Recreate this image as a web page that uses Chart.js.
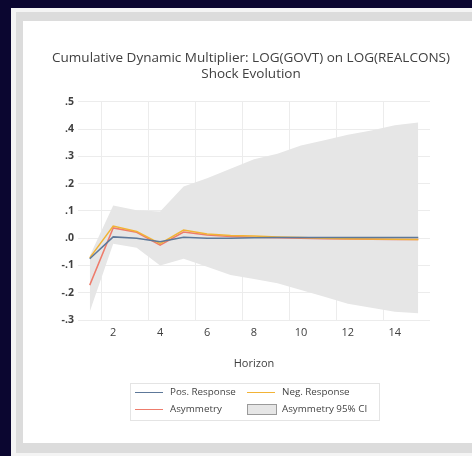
<!DOCTYPE html>
<html>
<head>
<meta charset="utf-8">
<script src="https://cdn.jsdelivr.net/npm/chart.js@4.4.1/dist/chart.umd.min.js"></script>
<style>
  html, body { margin: 0; padding: 0; width: 472px; height: 456px; overflow: hidden; background: #0b0630; }
  #white { position: absolute; left: 11px; top: 8px; width: 480px; height: 448px; background: #f4f4f4; }
  #gray { position: absolute; left: 16px; top: 12px; width: 480px; height: 441px; background: #dcdcdc; }
  #inner { position: absolute; left: 23px; top: 21px; width: 470px; height: 422px; background: #ffffff; }
  #c { position: absolute; left: 0; top: 0; }
</style>
</head>
<body>
<div id="white"></div>
<div id="gray"></div>
<div id="inner"><canvas id="c" width="456" height="422"></canvas></div>
<script>
const titleLines = ['Cumulative Dynamic Multiplier: LOG(GOVT) on LOG(REALCONS)', 'Shock Evolution'];
const xTitle = 'Horizon';
const horizons = ['1','2','3','4','5','6','7','8','9','10','11','12','13','14','15'];
const posResponse = [-0.075, 0.005, 0.000, -0.013, 0.004, 0.000, 0.000, 0.002, 0.003, 0.003, 0.003, 0.003, 0.003, 0.003, 0.003];
const negResponse = [-0.072, 0.045, 0.025, -0.020, 0.030, 0.016, 0.010, 0.008, 0.005, 0.003, 0.000, -0.002, -0.003, -0.004, -0.005];
const asymmetry   = [-0.172, 0.038, 0.022, -0.025, 0.023, 0.012, 0.006, 0.004, 0.002, 0.000, -0.002, -0.003, -0.004, -0.005, -0.005];
const ciUpper = [-0.065, 0.120, 0.103, 0.098, 0.190, 0.220, 0.255, 0.290, 0.310, 0.340, 0.360, 0.380, 0.395, 0.415, 0.425];
const ciLower = [-0.270, -0.020, -0.035, -0.100, -0.075, -0.105, -0.135, -0.150, -0.165, -0.190, -0.215, -0.240, -0.255, -0.270, -0.275];
const legendLabels = ['Pos. Response', 'Neg. Response', 'Asymmetry', 'Asymmetry 95% CI'];
const yMin = -0.3, yMax = 0.5, yStep = 0.1;

const FONT = '"Open Sans", Lato, sans-serif';
const COL_POS = '#5d7899';
const COL_NEG = '#f2b336';
const COL_ASY = '#ee7c6c';
const COL_CI = '#e6e6e6';

const legendPlugin = {
  id: 'boxLegend',
  afterDraw(chart) {
    const ctx = chart.ctx;
    const bx = 107, by = 362, bw = 249, bh = 37;
    ctx.save();
    ctx.strokeStyle = '#e4e4e4';
    ctx.lineWidth = 1;
    ctx.strokeRect(bx + 0.5, by + 0.5, bw, bh);
    ctx.font = '9.8px ' + FONT;
    ctx.textBaseline = 'middle';
    const items = [
      {x: 112, y: 371, type: 'line', color: COL_POS, label: legendLabels[0]},
      {x: 224, y: 371, type: 'line', color: COL_NEG, label: legendLabels[1]},
      {x: 112, y: 388, type: 'line', color: COL_ASY, label: legendLabels[2]},
      {x: 224, y: 388, type: 'box', color: COL_CI, label: legendLabels[3]}
    ];
    items.forEach(it => {
      if (it.type === 'line') {
        ctx.strokeStyle = it.color;
        ctx.lineWidth = 1;
        ctx.beginPath();
        ctx.moveTo(it.x, it.y + 0.5);
        ctx.lineTo(it.x + 28, it.y + 0.5);
        ctx.stroke();
      } else {
        ctx.fillStyle = it.color;
        ctx.fillRect(it.x, it.y - 5, 29, 10);
        ctx.strokeStyle = '#9a9a9a';
        ctx.lineWidth = 1;
        ctx.strokeRect(it.x + 0.5, it.y - 4.5, 29, 10);
      }
      ctx.fillStyle = '#444';
      ctx.fillText(it.label, it.x + 35, it.y);
    });
    ctx.restore();
  }
};

new Chart(document.getElementById('c'), {
  type: 'line',
  data: {
    labels: horizons,
    datasets: [
      {label: legendLabels[0], data: posResponse, borderColor: COL_POS, borderWidth: 1.5, pointRadius: 0, fill: false, tension: 0},
      {label: legendLabels[1], data: negResponse, borderColor: COL_NEG, borderWidth: 1.5, pointRadius: 0, fill: false, tension: 0},
      {label: legendLabels[2], data: asymmetry, borderColor: COL_ASY, borderWidth: 1.5, pointRadius: 0, fill: false, tension: 0},
      {label: legendLabels[3], data: ciUpper, borderColor: 'rgba(0,0,0,0)', borderWidth: 0, backgroundColor: COL_CI, pointRadius: 0, fill: '+1', tension: 0},
      {label: legendLabels[3] + ' lower', data: ciLower, borderColor: 'rgba(0,0,0,0)', borderWidth: 0, pointRadius: 0, fill: false, tension: 0}
    ]
  },
  options: {
    responsive: false,
    animation: false,
    layout: {padding: {left: 10, right: 10, top: 0, bottom: 63}},
    plugins: {
      legend: {display: false},
      tooltip: {enabled: false},
      title: {
        display: true,
        text: titleLines,
        color: '#404040',
        font: {family: FONT, size: 13.5, weight: 'normal', lineHeight: 1.185},
        padding: {top: 29, bottom: 20}
      }
    },
    scales: {
      x: {
        type: 'category',
        offset: true,
        border: {display: false},
        grid: {
          offset: true,
          drawTicks: false,
          lineWidth: 1,
          color: (c) => (c.index % 2 === 1 && c.index < horizons.length) ? '#ececec' : 'rgba(0,0,0,0)'
        },
        ticks: {
          autoSkip: false,
          maxRotation: 0,
          padding: 6,
          color: '#404040',
          font: {family: FONT, size: 11},
          callback: function(v, i) { return (i % 2 === 1) ? horizons[i] : ''; }
        },
        title: {display: true, text: xTitle, color: '#404040', font: {family: FONT, size: 11}, padding: {top: 4, bottom: 10}},
        afterFit: (s) => { s.height = 60; }
      },
      y: {
        min: yMin, max: yMax,
        border: {display: false},
        grid: {drawTicks: false, color: '#ececec', lineWidth: 1},
        ticks: {
          stepSize: yStep,
          padding: 4,
          color: '#404040',
          font: {family: FONT, size: 10.5, weight: 'bold'},
          callback: function(v) {
            let s = (Math.round(v * 10) / 10).toFixed(1);
            return s.replace('0.', '.');
          }
        },
        afterFit: (s) => { s.width = 45; }
      },
      yRight: {
        type: 'linear',
        position: 'right',
        display: true,
        min: yMin, max: yMax,
        border: {display: false},
        grid: {display: false, drawTicks: false},
        ticks: {display: false},
        afterFit: (s) => { s.width = 39; }
      }
    }
  },
  plugins: [legendPlugin]
});
</script>
</body>
</html>
